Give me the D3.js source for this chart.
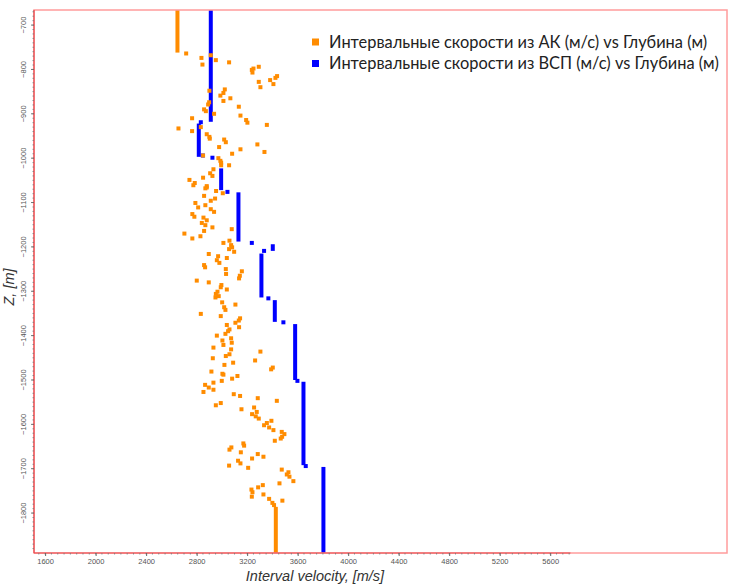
<!DOCTYPE html>
<html><head><meta charset="utf-8">
<script src="https://cdn.jsdelivr.net/npm/d3@7/dist/d3.min.js"></script>
<style>body{margin:0;background:#fff;} svg{display:block}</style>
</head><body><svg id="c" width="744" height="584"></svg>
<script>
// ---- data ----
const xTicks = [1600, 2000, 2400, 2800, 3200, 3600, 4000, 4400, 4800, 5200, 5600];
const yTicks = [-700, -800, -900, -1000, -1100, -1200, -1300, -1400, -1500, -1600, -1700, -1800];
const xTitle = "Interval velocity, [m/s]";
const yTitle = "Z, [m]";
const legendLabels = [
  "Интервальные скорости из АК (м/с) vs Глубина (м)",
  "Интервальные скорости из ВСП (м/с) vs Глубина (м)"
];
// AK (sonic) interval velocities: [velocity, depth]
const akPoints = [
  [2717,-764],[2838,-774],[2846,-789],[2912,-768],[2952,-779],[3057,-784],[3237,-801],[3242,-807],
  [3250,-798],[3292,-794],[3292,-828],[3305,-840],[3382,-824],[3408,-833],[3424,-819],[3437,-815],
  [2901,-848],[3023,-845],[3012,-853],[2988,-859],[3067,-865],[3012,-871],[2899,-874],[2891,-879],
  [3134,-884],[2859,-890],[2873,-894],[2938,-900],[3147,-904],[2764,-910],[3192,-914],[3202,-920],
  [3356,-925],[2656,-933],[2764,-939],[2833,-930],[2880,-946],[2901,-952],[2904,-956],[3018,-958],
  [3031,-964],[2978,-975],[3147,-980],[3281,-969],[3337,-986],[3081,-990],[2851,-994],[2972,-1000],
  [2988,-1006],[2994,-1010],[2994,-1016],[3057,-1016],[2933,-1025],[2907,-1034],[2925,-1040],[2851,-1044],
  [2743,-1049],[2785,-1056],[2774,-1061],[2880,-1066],[2869,-1068],[2880,-1063],[2954,-1074],[3007,-1079],
  [2859,-1085],[2946,-1091],[2912,-1096],[2790,-1101],[2812,-1111],[2869,-1106],[2912,-1115],[2938,-1121],
  [2766,-1126],[2782,-1132],[2854,-1134],[2880,-1140],[2841,-1146],[2869,-1151],[2925,-1156],[3078,-1160],
  [2859,-1164],[2703,-1170],[2830,-1176],[2766,-1181],[3060,-1186],[3012,-1191],[3073,-1196],[3081,-1201],
  [3057,-1205],[3097,-1211],[2896,-1216],[2970,-1221],[3039,-1225],[2960,-1230],[2980,-1236],[2859,-1241],
  [2867,-1246],[3031,-1250],[3158,-1255],[3033,-1261],[3142,-1265],[3136,-1271],[2801,-1276],[2896,-1280],
  [2996,-1286],[2991,-1291],[3039,-1296],[2965,-1301],[2952,-1306],[2949,-1314],[2975,-1311],[3002,-1325],
  [3107,-1330],[3018,-1336],[3028,-1342],[2833,-1351],[2991,-1356],[3144,-1361],[3134,-1366],[3107,-1371],
  [3039,-1376],[3060,-1386],[3136,-1381],[3049,-1390],[3028,-1396],[2960,-1400],[3073,-1406],[3004,-1411],
  [3078,-1416],[3012,-1421],[2933,-1427],[3073,-1431],[3305,-1436],[3060,-1442],[3031,-1446],[2928,-1451],
  [3263,-1456],[3089,-1461],[3020,-1466],[3403,-1472],[3390,-1476],[2917,-1481],[3004,-1486],[3012,-1488],
  [3123,-1491],[3081,-1497],[2999,-1502],[2933,-1506],[2867,-1511],[2896,-1517],[2933,-1522],[2854,-1527],
  [3094,-1532],[3144,-1536],[3284,-1541],[3435,-1547],[2991,-1552],[2952,-1557],[3255,-1562],[3155,-1566],
  [3276,-1572],[3239,-1577],[3268,-1582],[3292,-1587],[3392,-1592],[3356,-1597],[3334,-1602],[3374,-1607],
  [3408,-1613],[3474,-1617],[3495,-1622],[3477,-1628],[3466,-1632],[3419,-1637],[3170,-1643],[3176,-1648],
  [3075,-1652],[3060,-1657],[3150,-1663],[3284,-1667],[3329,-1673],[3239,-1677],[3128,-1682],[3147,-1688],
  [3057,-1693],[3208,-1698],[3474,-1702],[3527,-1708],[3514,-1713],[3535,-1718],[3566,-1728],[3456,-1733],
  [3324,-1737],[3287,-1742],[3234,-1747],[3242,-1753],[3329,-1758],[3237,-1763],[3374,-1768],[3479,-1772],
  [3400,-1777],[3413,-1782]
];
// AK constant-velocity runs: [velocity, top depth, bottom depth]
const akRuns = [[2648,-666,-762],[3427,-1786,-1890]];
// VSP interval velocity runs: [velocity, top depth, bottom depth]
const vspRuns = [
  [2912,-666,-918],[2817,-922,-997],[2994,-1023,-1072],[3131,-1077,-1188],[3403,-1194,-1209],
  [3313,-1215,-1314],[3419,-1320,-1369],[3580,-1374,-1500],[3646,-1504,-1692],[3804,-1696,-1890]
];
// VSP isolated points: [velocity, depth]
const vspPoints = [
  [2833,-919],[2849,-994],[2925,-999],[3044,-1076],[3237,-1191],[3334,-1209],
  [3368,-1316],[3487,-1370],[3598,-1502],[3664,-1694]
];

// ---- chart ----
const ORANGE = "#FF8C00", BLUE = "#0000FF", FRAME = "#FF9C9C";
const svg = d3.select("#c");
const x = d3.scaleLinear().domain([1512, 7000]).range([34, 727]);
const y = d3.scaleLinear().domain([-666, -1890]).range([10, 553]);

const plot = svg.append("g");
// VSP
plot.selectAll("line.vsp").data(vspRuns).join("line")
  .attr("x1", d => x(d[0])).attr("x2", d => x(d[0]))
  .attr("y1", d => Math.max(y(d[1]), 10)).attr("y2", d => Math.min(y(d[2]), 553))
  .attr("stroke", BLUE).attr("stroke-width", 4);
plot.selectAll("rect.vspp").data(vspPoints).join("rect")
  .attr("x", d => x(d[0]) - 2).attr("y", d => y(d[1]) - 2)
  .attr("width", 4).attr("height", 4).attr("fill", BLUE);
// AK
plot.selectAll("line.ak").data(akRuns).join("line")
  .attr("x1", d => x(d[0])).attr("x2", d => x(d[0]))
  .attr("y1", d => Math.max(y(d[1]), 10)).attr("y2", d => Math.min(y(d[2]), 553))
  .attr("stroke", ORANGE).attr("stroke-width", 4);
plot.selectAll("rect.akp").data(akPoints).join("rect")
  .attr("x", d => x(d[0]) - 2).attr("y", d => y(d[1]) - 2)
  .attr("width", 4).attr("height", 4).attr("fill", ORANGE);

// frame
svg.append("rect").attr("x", 34).attr("y", 10).attr("width", 693).attr("height", 543)
  .attr("fill", "none").attr("stroke", FRAME).attr("stroke-width", 1.5);

// x axis
const xAxisEnd = 5760;
const gx = svg.append("g").attr("transform", "translate(0,553)");
gx.append("line").attr("x1", 34).attr("x2", x(xAxisEnd)).attr("stroke", "#e8474a").attr("stroke-width", 1.2);
gx.selectAll("line.minor").data(d3.range(1550, xAxisEnd, 50)).join("line")
  .attr("x1", d => x(d)).attr("x2", d => x(d)).attr("y1", 0).attr("y2", 1.5)
  .attr("stroke", "#777").attr("stroke-width", 0.8);
gx.call(d3.axisBottom(x).tickValues(xTicks).tickFormat(d3.format("d")).tickSize(3).tickPadding(3))
  .call(g => g.select(".domain").remove())
  .call(g => g.selectAll(".tick line").attr("stroke", "#666"))
  .call(g => g.selectAll(".tick text").attr("fill", "#555").attr("font-size", 7.5)
       .attr("font-family", "Liberation Sans, Arial, sans-serif"));

// y axis
const gy = svg.append("g").attr("transform", "translate(34,0)");
gy.append("line").attr("y1", 10).attr("y2", 553).attr("stroke", "#e8474a").attr("stroke-width", 1.2);
gy.selectAll("line.minor").data(d3.range(-670, -1890, -10)).join("line")
  .attr("y1", d => y(d)).attr("y2", d => y(d)).attr("x1", 0).attr("x2", -1.5)
  .attr("stroke", "#777").attr("stroke-width", 0.8);
gy.selectAll("line.major").data(yTicks).join("line")
  .attr("y1", d => y(d)).attr("y2", d => y(d)).attr("x1", 0).attr("x2", -3)
  .attr("stroke", "#666").attr("stroke-width", 0.9);
gy.selectAll("text").data(yTicks).join("text")
  .attr("transform", d => `translate(-8,${y(d)}) rotate(-90)`)
  .attr("text-anchor", "middle").attr("font-size", 7.5).attr("fill", "#555")
  .attr("font-family", "Liberation Sans, Arial, sans-serif")
  .text(d => d3.format("d")(d));

// titles
svg.append("text").attr("x", 315).attr("y", 581).attr("text-anchor", "middle")
  .attr("font-family", "Liberation Sans, Arial, sans-serif").attr("font-style", "italic")
  .attr("font-size", 14.5).attr("fill", "#333").text(xTitle);
svg.append("text").attr("transform", "translate(14,287) rotate(-90)").attr("text-anchor", "middle")
  .attr("font-family", "Liberation Sans, Arial, sans-serif").attr("font-style", "italic")
  .attr("font-size", 14.5).attr("fill", "#333").text(yTitle);

// legend
const legend = svg.append("g");
const lg = legend.selectAll("g").data(legendLabels).join("g")
  .attr("transform", (d, i) => `translate(312,${42 + i * 21.5})`);
lg.append("rect").attr("x", 0).attr("y", -3.5).attr("width", 7).attr("height", 7)
  .attr("fill", (d, i) => i === 0 ? ORANGE : BLUE);
lg.append("text").attr("x", 17).attr("y", 5.5)
  .attr("font-family", "Lato, 'Open Sans', sans-serif").attr("font-size", 16.4).attr("fill", "#222")
  .text(d => d);
</script></body></html>
